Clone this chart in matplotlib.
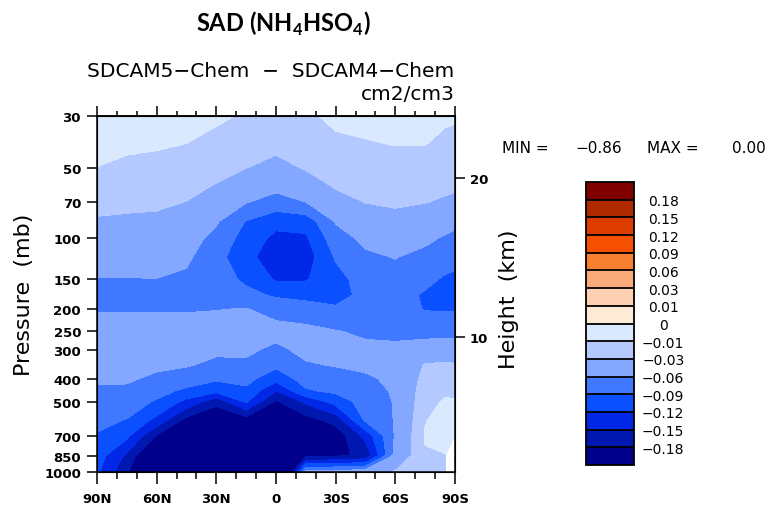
import numpy as np
import matplotlib
matplotlib.use("Agg")
import matplotlib.pyplot as plt
from matplotlib.colors import ListedColormap, BoundaryNorm
from matplotlib.ticker import NullLocator, NullFormatter

plt.rcParams['font.family'] = ['DejaVu Sans']
plt.rcParams['mathtext.fontset'] = 'custom'
plt.rcParams['mathtext.rm'] = 'Lato'
plt.rcParams['mathtext.bf'] = 'Lato:bold'

# zonal mean SAD difference, SDCAM5-Chem minus SDCAM4-Chem
lats = [90, 75, 60, 45, 30, 15, 0, -15, -30, -45, -60, -75, -85, -90]
pressures = [30, 40, 50, 60, 70, 85, 100, 120, 150, 175, 200, 250, 300,
             350, 400, 450, 500, 600, 700, 850, 1000]
nan = np.nan
# one row per latitude, values from 30 mb down to 1000 mb
sad_diff = [
    [-0.005, -0.0078, -0.0101, -0.0173, -0.0239, -0.0325, -0.0405, -0.050, -0.061, -0.072, -0.0615,
     -0.052, -0.045, -0.0515, -0.057, -0.0633, -0.0704, -0.0822, -0.0925, -0.105, -0.115],
    [-0.005, -0.0082, -0.0126, -0.0194, -0.0255, -0.0337, -0.0411, -0.0498, -0.061, -0.072, -0.0615,
     -0.052, -0.045, -0.0515, -0.057, -0.0645, -0.0745, -0.0914, -0.113, -0.156, -0.175],
    [-0.005, -0.0087, -0.0146, -0.0209, -0.0265, -0.0345, -0.0416, -0.050, -0.0605, -0.072, -0.0615,
     -0.0523, -0.0495, -0.0558, -0.0648, -0.0792, -0.0935, -0.129, -0.183, -0.237, -0.28],
    [-0.005, -0.0104, -0.0184, -0.0247, -0.0304, -0.0393, -0.0463, -0.0547, -0.0655, -0.0697, -0.0617,
     -0.0515, -0.0512, -0.0581, -0.075, -0.0967, -0.129, -0.1905, -0.224, -0.266, -0.30],
    [-0.007, -0.0163, -0.0244, -0.0314, -0.0429, -0.0571, -0.0697, -0.080, -0.0748, -0.0674, -0.0609,
     -0.0492, -0.0548, -0.0668, -0.0859, -0.1108, -0.17, -0.213, -0.246, -0.287, -0.32],
    [-0.012, -0.0218, -0.0297, -0.0446, -0.0583, -0.0919, -0.1019, -0.110, -0.0963, -0.0805, -0.0595,
     -0.0485, -0.055, -0.0656, -0.0811, -0.0967, -0.115, -0.1955, -0.237, -0.289, -0.33],
    [-0.015, -0.0251, -0.0373, -0.0519, -0.0729, -0.1112, -0.1279, -0.14, -0.1234, -0.0946, -0.0688,
     -0.0513, -0.066, -0.084, -0.1093, -0.15, -0.1847, -0.227, -0.265, -0.312, -0.35],
    [-0.013, -0.0215, -0.0282, -0.0429, -0.060, -0.1083, -0.125, -0.135, -0.1222, -0.100, -0.0759,
     -0.0523, -0.0529, -0.0632, -0.0782, -0.0938, -0.144, -0.193, -0.2157, -0.19, -0.045],
    [-0.006, -0.0143, -0.022, -0.028, -0.0394, -0.0581, -0.0714, -0.0868, -0.1017, -0.0978, -0.0873,
     -0.0586, -0.0484, -0.0586, -0.072, -0.084, -0.1088, -0.169, -0.201, -0.185, -0.045],
    [-0.006, -0.0113, -0.0186, -0.0243, -0.0294, -0.0426, -0.0537, -0.0648, -0.0754, -0.084, -0.0787,
     -0.065, -0.0531, -0.0559, -0.0637, -0.070, -0.0758, -0.0853, -0.14, -0.175, -0.04],
    [-0.008, -0.0098, -0.0163, -0.0221, -0.0271, -0.0369, -0.0469, -0.0588, -0.070, -0.078, -0.075,
     -0.0644, -0.056, -0.054, -0.055, -0.057, -0.058, -0.058, -0.057, -0.05, -0.028],
    [-0.007, -0.0099, -0.0176, -0.0238, -0.0293, -0.0429, -0.0543, -0.0677, -0.083, -0.0935, -0.0919,
     -0.0704, -0.045, -0.0281, -0.0229, -0.0184, -0.0155, -0.011, -0.0082, -0.012, -0.015],
    [-0.007, -0.015, -0.0214, -0.0264, -0.0326, -0.0497, -0.0632, -0.0786, -0.0936, -0.0991, -0.0927,
     -0.0691, -0.0429, -0.0264, -0.018, -0.0124, -0.0083, -0.003, -0.002, -0.011, -0.013],
    [-0.008, -0.0161, -0.0223, -0.0271, -0.0347, -0.0534, -0.0671, -0.0821, -0.0955, -0.1, -0.093,
     -0.0686, -0.0437, -0.0276, -0.019, -0.013, -0.0089, -0.0049, -0.003, nan, nan],
]

levels = [-0.18, -0.15, -0.12, -0.09, -0.06, -0.03, -0.01, 0, 0.01, 0.03, 0.06, 0.09, 0.12, 0.15, 0.18]
level_labels = ['\u22120.18', '\u22120.15', '\u22120.12', '\u22120.09', '\u22120.06', '\u22120.03',
                '\u22120.01', '0', '0.01', '0.03', '0.06', '0.09', '0.12', '0.15', '0.18']
# bottom (most negative) to top
colors = ['#00008c', '#0018b0', '#0028e6', '#0a50ff', '#4078ff', '#84a8ff', '#b4c9ff', '#dbe9ff',
          '#fdebd8', '#fdd0b4', '#f9aa7a', '#f77f30', '#f55000', '#dc3c00', '#b02a00', '#800000']

p_ticks = [30, 50, 70, 100, 150, 200, 250, 300, 400, 500, 700, 850, 1000]
lat_ticks = [90, 60, 30, 0, -30, -60, -90]
lat_labels = ['90N', '60N', '30N', '0', '30S', '60S', '90S']
height_labels = ['10', '20']
height_p = [265, 55]

W, H = 773, 506
fig = plt.figure(figsize=(W / 100, H / 100), dpi=100)
ax = fig.add_axes([97 / W, 1 - 473 / H, 358 / W, 356 / H])

field = np.ma.masked_invalid(np.array(sad_diff).T)
cmap = ListedColormap(colors[1:-1])
cmap.set_under(colors[0])
cmap.set_over(colors[-1])
norm = BoundaryNorm(levels, cmap.N)
cf = ax.contourf(lats, pressures, field, levels=levels, cmap=cmap, norm=norm, extend='both')

ax.set_yscale('log')
ax.set_ylim(1000, 30)
ax.set_xlim(90, -90)
ax.set_yticks(p_ticks)
ax.set_yticklabels([str(p) for p in p_ticks])
ax.yaxis.set_minor_locator(NullLocator())
ax.yaxis.set_minor_formatter(NullFormatter())
ax.set_xticks(lat_ticks)
ax.set_xticklabels(lat_labels)
ax.set_xticks(range(-80, 90, 10), minor=True)
ax.tick_params(axis='x', which='major', length=8.5, width=1.1, pad=6, labelsize=9.5)
ax.tick_params(axis='x', which='minor', length=5, width=1.1)
ax.tick_params(axis='y', which='major', length=7.5, width=1.1, pad=4, labelsize=9.5)
for lab in ax.get_xticklabels() + ax.get_yticklabels():
    lab.set_fontweight('bold')
for sp in ax.spines.values():
    sp.set_linewidth(1.1)

top = ax.secondary_xaxis('top')
top.set_xticks(lat_ticks)
top.set_xticklabels([])
top.set_xticks(range(-80, 90, 10), minor=True)
top.tick_params(which='major', length=7, width=1.1)
top.tick_params(which='minor', length=3.5, width=1.1)
top.spines['top'].set_linewidth(1.1)

rax = ax.twinx()
rax.set_yscale('log')
rax.set_ylim(1000, 30)
rax.set_yticks(height_p)
rax.set_yticklabels(height_labels)
rax.yaxis.set_minor_locator(NullLocator())
rax.yaxis.set_minor_formatter(NullFormatter())
rax.tick_params(axis='y', length=7, width=1.1, pad=3.5, labelsize=9.5)
for lab in rax.get_yticklabels():
    lab.set_fontweight('bold')

fig.text(24 / W, 1 - 295 / H, 'Pressure  (mb)', rotation=90, ha='center', va='center', fontsize=16)
fig.text(509 / W, 1 - 299 / H, 'Height  (km)', rotation=90, ha='center', va='center', fontsize=16)

fig.text(283 / W, 1 - 32 / H, r'SAD (NH$_\mathbf{4}$HSO$_\mathbf{4}$)', family='Lato',
         fontweight='bold', fontsize=17, ha='center', va='baseline')
fig.text(271 / W, 1 - 77 / H, 'SDCAM5\u2212Chem  \u2212  SDCAM4\u2212Chem', fontsize=14.5,
         ha='center', va='baseline')
fig.text(455 / W, 1 - 100 / H, 'cm2/cm3', fontsize=14.5, ha='right', va='baseline')

fig.text(502 / W, 1 - 153 / H, 'MIN =', fontsize=11, va='baseline')
fig.text(575 / W, 1 - 153 / H, '\u22120.86', fontsize=11, va='baseline')
fig.text(647 / W, 1 - 153 / H, 'MAX =', fontsize=11, va='baseline')
fig.text(732 / W, 1 - 153 / H, '0.00', fontsize=11, va='baseline')

cax = fig.add_axes([586 / W, 1 - 466 / H, 48 / W, 283 / H])
cb = fig.colorbar(cf, cax=cax, ticks=levels, extendfrac='auto', extendrect=True,
                  drawedges=True, spacing='uniform')
cb.set_ticklabels(level_labels)
cb.outline.set_linewidth(1.3)
cb.dividers.set_linewidth(1.3)
cax.tick_params(length=0, pad=21, labelsize=10)
for lab in cax.get_yticklabels():
    lab.set_horizontalalignment('center')

fig.savefig('out.png', dpi=100)
